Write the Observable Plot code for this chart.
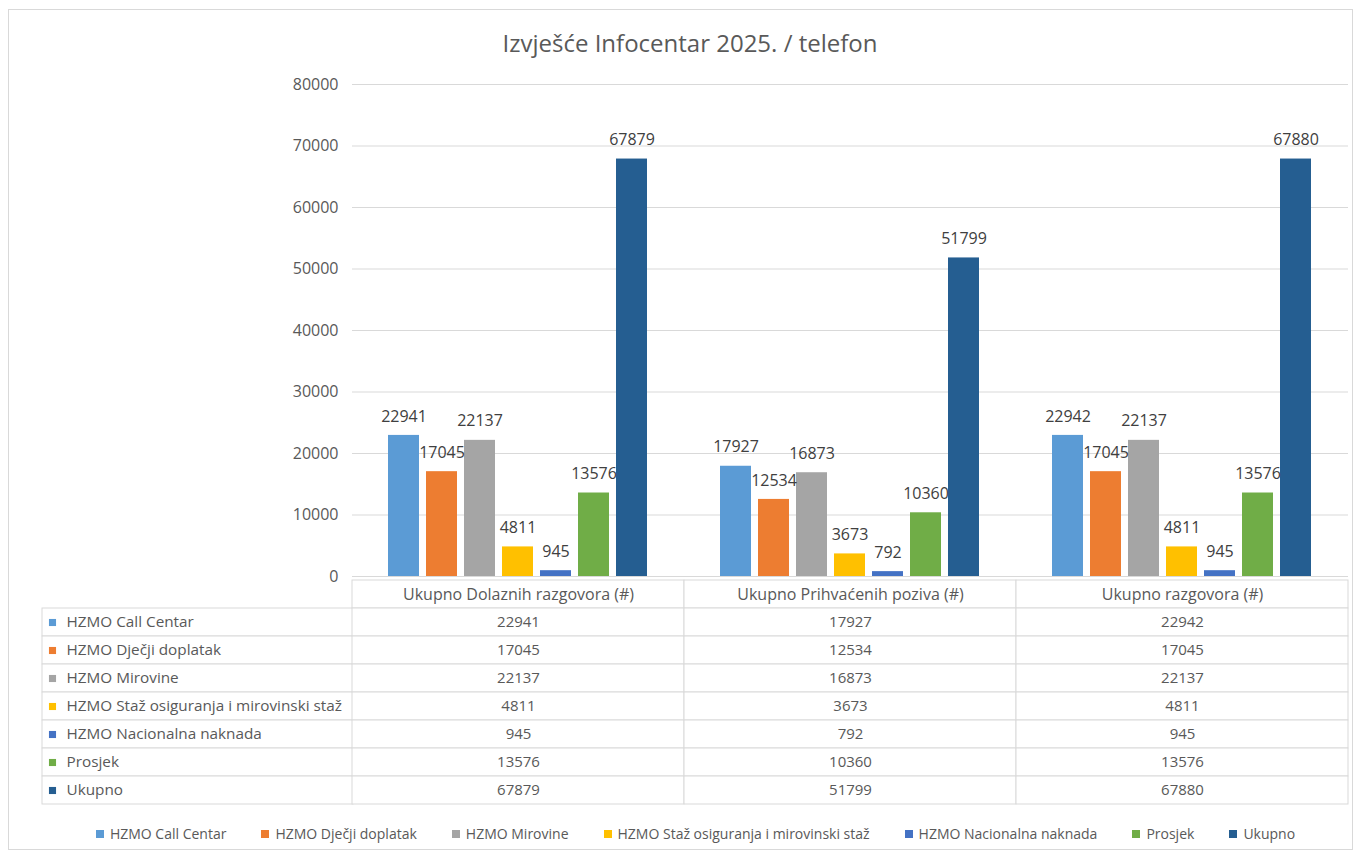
<!DOCTYPE html>
<html>
<head>
<meta charset="utf-8">
<script src="https://cdn.jsdelivr.net/npm/d3@7"></script>
<script src="https://cdn.jsdelivr.net/npm/@observablehq/plot@0.6"></script>
<style>
  html, body { margin: 0; padding: 0; background: #fff; }
  body { width: 1358px; height: 855px; position: relative; overflow: hidden; font-family: "Open Sans", sans-serif; }
  #frame { position: absolute; left: 8px; top: 9px; width: 1345px; height: 841px; border: 1px solid #d9d9d9; box-sizing: border-box; }
  #title { position: absolute; left: 0; top: 26px; width: 1380px; text-align: center; font-size: 24px; color: #595959; }
  #chart { position: absolute; left: 0; top: 0; }
  #labels { position: absolute; left: 41px; top: 576px; }
  #table { position: absolute; left: 351px; top: 576px; }
  #legend { position: absolute; left: 34px; top: 817px; width: 1358px; }
  .lg-swatch { margin-right: 35px !important; }
  .lg-swatch svg { margin-right: 6px !important; }
</style>
</head>
<body>
<div id="frame"></div>
<div id="title">Izvješće Infocentar 2025. / telefon</div>
<div id="chart"></div>
<div id="labels"></div>
<div id="table"></div>
<div id="legend"></div>
<script>
const categories = ["Ukupno Dolaznih razgovora (#)", "Ukupno Prihvaćenih poziva (#)", "Ukupno razgovora (#)"];
const series = ["HZMO Call Centar", "HZMO Dječji doplatak", "HZMO Mirovine", "HZMO Staž osiguranja i mirovinski staž", "HZMO Nacionalna naknada", "Prosjek", "Ukupno"];
const colors = ["#5b9bd5", "#ed7d31", "#a5a5a5", "#ffc000", "#4472c4", "#70ad47", "#255e91"];
const dolazni = [22941, 17045, 22137, 4811, 945, 13576, 67879];
const prihvaceni = [17927, 12534, 16873, 3673, 792, 10360, 51799];
const razgovori = [22942, 17045, 22137, 4811, 945, 13576, 67880];
const yTicks = [0, 10000, 20000, 30000, 40000, 50000, 60000, 70000, 80000];

const valuesByCategory = [dolazni, prihvaceni, razgovori];
const data = [];
categories.forEach((c, i) => series.forEach((s, j) => data.push({category: c, series: s, value: valuesByCategory[i][j]})));

const font = "'Open Sans', sans-serif";
const grey = "#595959";
const lineColor = "#d9d9d9";

const chart = Plot.plot({
  width: 1358, height: 580,
  marginLeft: 352, marginRight: 10, marginTop: 84, marginBottom: 4,
  style: {fontFamily: font, fontSize: "16px", color: grey, background: "transparent", overflow: "visible"},
  fx: {domain: categories, padding: 0, axis: null, label: null},
  x: {domain: series, paddingInner: 0.18, paddingOuter: 0.85, axis: null},
  y: {domain: [0, 80000], ticks: yTicks, tickSize: 0, tickPadding: 14, tickFormat: d => String(d), label: null},
  color: {domain: series, range: colors},
  marks: [
    Plot.gridY(yTicks, {stroke: lineColor, strokeOpacity: 1}),
    Plot.barY(data, {fx: "category", x: "series", y: "value", fill: "series"}),
    Plot.text(data, {fx: "category", x: "series", y: "value", text: d => String(d.value), dy: -19, fill: "#404040", fontSize: 16}),
    Plot.ruleY([0], {stroke: lineColor})
  ]
});
document.getElementById("chart").appendChild(chart);

const rows = [""].concat(series);

const labels = Plot.plot({
  width: 312, height: 233,
  marginLeft: 1, marginRight: 0, marginTop: 1, marginBottom: 2,
  style: {fontFamily: font, fontSize: "15px", color: grey, background: "transparent", overflow: "visible"},
  y: {domain: rows, padding: 0, axis: null},
  color: {domain: series, range: colors},
  marks: [
    Plot.cell(series, {y: d => d, fill: "white", stroke: lineColor}),
    Plot.dot(series, {y: d => d, frameAnchor: "left", dx: 10, symbol: "square", r: 4, fill: d => d, stroke: null}),
    Plot.text(series, {y: d => d, text: d => d, frameAnchor: "left", dx: 24, textAnchor: "start", fill: grey, fontSize: 15.3})
  ]
});
document.getElementById("labels").appendChild(labels);

const table = Plot.plot({
  width: 999, height: 233,
  marginLeft: 1, marginRight: 2, marginTop: 1, marginBottom: 2,
  style: {fontFamily: font, fontSize: "15px", color: grey, background: "transparent", overflow: "visible"},
  x: {domain: categories, padding: 0, axis: null},
  y: {domain: rows, padding: 0, axis: null},
  marks: [
    Plot.cell(categories, {x: d => d, y: () => "", fill: "white", stroke: lineColor}),
    Plot.cell(data, {x: "category", y: "series", fill: "white", stroke: lineColor}),
    Plot.text(categories, {x: d => d, y: () => "", text: d => d, fill: grey, fontSize: 16}),
    Plot.text(data, {x: "category", y: "series", text: d => String(d.value), fill: grey, fontSize: 15})
  ]
});
document.getElementById("table").appendChild(table);

const legend = Plot.legend({
  color: {domain: series, range: colors},
  legend: "swatches",
  className: "lg",
  swatchSize: 8,
  style: {fontFamily: font, fontSize: "14px", color: grey, justifyContent: "center", background: "transparent"}
});
document.getElementById("legend").appendChild(legend);
</script>
</body>
</html>
